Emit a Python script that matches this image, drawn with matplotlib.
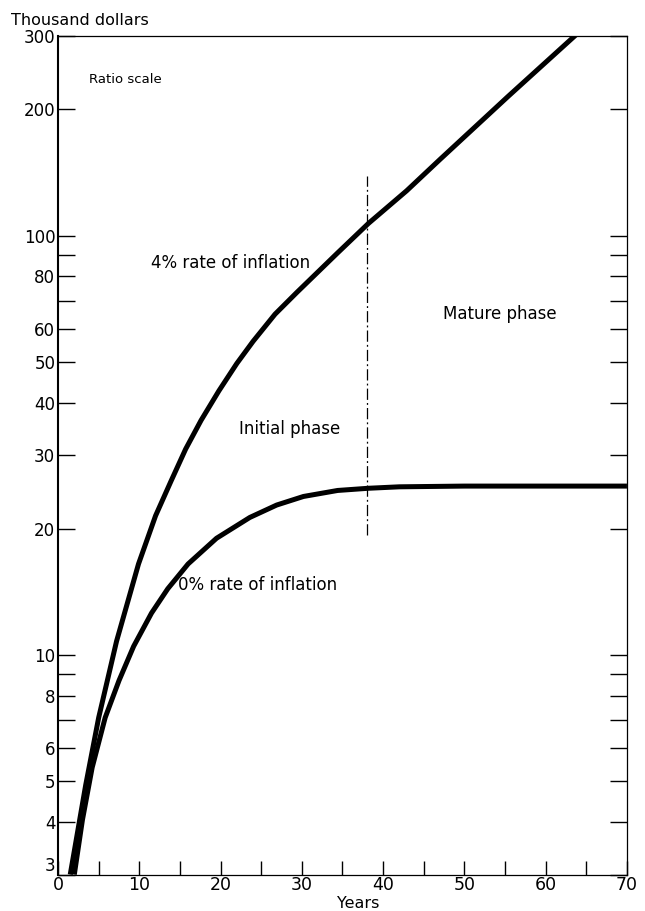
import matplotlib
matplotlib.use("Agg")
import matplotlib.pyplot as plt
from matplotlib.ticker import FixedLocator, FixedFormatter, NullLocator

plt.rcParams['font.family'] = ['DejaVu Sans']

# Accumulated fund, thousand dollars, by years since start
years_4pct = [1.5, 3.4, 5.0, 7.2, 9.9, 12.0, 13.9, 15.7, 17.6, 19.8, 22.0,
              24.0, 26.7, 29.4, 34.4, 38.2, 42.9, 47.0, 55.4, 63.8]
fund_4pct = [3.0, 4.9, 7.1, 10.8, 16.5, 21.5, 26.0, 31.0, 36.3, 42.7, 49.6,
             56.0, 65.0, 73.3, 91.0, 107, 128, 152, 215, 302]

years_0pct = [2.0, 3.0, 4.2, 5.8, 7.5, 9.3, 11.5, 13.5, 16.0, 19.5, 23.6,
              26.9, 30.2, 34.4, 38.2, 42.0, 50.0, 60.0, 70.0]
fund_0pct = [3.0, 4.05, 5.4, 7.1, 8.7, 10.5, 12.6, 14.4, 16.5, 19.0, 21.3,
             22.8, 23.9, 24.7, 25.0, 25.2, 25.3, 25.3, 25.3]

# boundary between initial and mature phase
phase_year = 38
phase_span = [19.3, 139]

y_ticks = [3, 4, 5, 6, 7, 8, 9, 10, 20, 30, 40, 50, 60, 70, 80, 90, 100, 200, 300]
y_labels = ['3', '4', '5', '6', '', '8', '', '10', '20', '30', '40', '50',
            '60', '', '80', '', '100', '200', '300']
x_ticks = list(range(0, 71, 5))
x_labels = [str(x) if x % 10 == 0 else '' for x in x_ticks]

fig = plt.figure(figsize=(6.45, 9.11), dpi=100)
ax = fig.add_axes([0.09, 0.04, 0.882, 0.921])

ax.plot(years_4pct, fund_4pct, color='black', lw=3.6, solid_capstyle='butt',
        solid_joinstyle='round')
ax.plot(years_0pct, fund_0pct, color='black', lw=3.6, solid_capstyle='butt',
        solid_joinstyle='round')
ax.plot([phase_year, phase_year], phase_span, color='black', lw=0.9,
        linestyle=(0, (9, 2.5, 1.5, 2.5)))

ax.set_yscale('log')
ax.set_xlim(0, 70)
ax.set_ylim(3, 300)

ax.yaxis.set_major_locator(FixedLocator(y_ticks))
ax.yaxis.set_major_formatter(FixedFormatter(y_labels))
ax.yaxis.set_minor_locator(NullLocator())
ax.xaxis.set_major_locator(FixedLocator(x_ticks))
ax.xaxis.set_major_formatter(FixedFormatter(x_labels))

ax.tick_params(axis='y', direction='in', length=12, width=1.0, pad=2,
               labelsize=12, right=True)
ax.tick_params(axis='x', direction='in', length=10, width=1.0, pad=1,
               labelsize=12.5)

# lift the bottom "3" so it clears the "0" below it
for lbl in ax.get_yticklabels():
    if lbl.get_text() == '3':
        lbl.set_verticalalignment('bottom')

for side in ['top', 'right', 'bottom']:
    ax.spines[side].set_linewidth(0.9)
ax.spines['left'].set_linewidth(1.5)

fig.text(0.556, 0.0, 'Years', ha='center', va='bottom', fontsize=11.5)
fig.text(0.017, 0.978, 'Thousand dollars', ha='left', va='center', fontsize=11.5)
ax.text(0.118, 0.948, 'Ratio scale', transform=ax.transAxes,
        ha='center', va='center', fontsize=9.5)

ax.text(21.2, 86, '4% rate of inflation', ha='center', va='center', fontsize=12)
ax.text(24.6, 14.7, '0% rate of inflation', ha='center', va='center', fontsize=12)
ax.text(28.5, 34.6, 'Initial phase', ha='center', va='center', fontsize=12)
ax.text(54.3, 65, 'Mature phase', ha='center', va='center', fontsize=12)

fig.savefig('out.png', dpi=100)
